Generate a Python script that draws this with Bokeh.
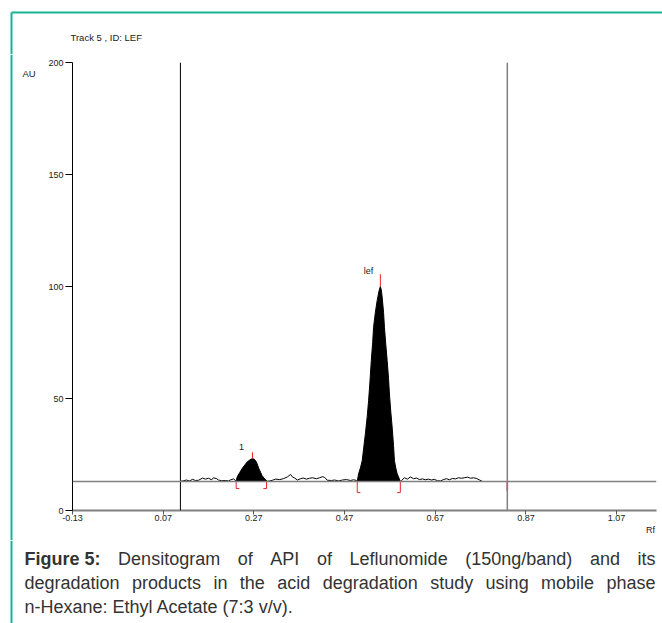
from bokeh.plotting import figure
from bokeh.layouts import column, row
from bokeh.models import FixedTicker, Span, LinearAxis, Range1d
from bokeh.core.properties import value
from bokeh.embed import file_html
from bokeh.resources import INLINE

# ---------------- data ----------------
title_text = "Track  5 , ID: LEF"
y_label_text = "AU"
x_label_text = "Rf"
y_ticks = [0, 50, 100, 150, 200]
x_tick_labels = ["-0.13", "0.07", "0.27", "0.47", "0.67", "0.87", "1.07"]
baseline_au = 13.0
track_start_rf = 0.108
track_end_rf = 0.829

noise1_rf = [0.108, 0.115, 0.121, 0.128, 0.135, 0.141, 0.148, 0.157, 0.163, 0.170,
             0.177, 0.181, 0.188, 0.192, 0.199, 0.207, 0.214, 0.218, 0.225, 0.229]
noise1_au = [13.0, 13.3, 13.6, 13.2, 13.9, 13.4, 13.5, 14.5, 14.0, 14.4,
             13.7, 14.6, 14.2, 13.6, 13.3, 13.4, 13.2, 13.6, 14.1, 13.5]

peak1_rf = [0.231, 0.233, 0.239, 0.244, 0.250, 0.255, 0.261, 0.266, 0.270, 0.274,
            0.277, 0.281, 0.285, 0.288, 0.292, 0.296, 0.299]
peak1_au = [13.0, 14.9, 17.0, 18.7, 20.3, 21.6, 22.6, 23.1, 23.0, 22.2,
            21.0, 18.7, 17.0, 15.6, 14.5, 13.8, 13.0]

noise2_rf = [0.305, 0.311, 0.318, 0.327, 0.335, 0.344, 0.351, 0.355, 0.360, 0.366,
             0.373, 0.379, 0.386, 0.393, 0.399, 0.408, 0.415, 0.421, 0.426, 0.432,
             0.441, 0.448, 0.457, 0.465, 0.474, 0.483, 0.490, 0.496]
noise2_au = [13.2, 13.5, 14.0, 13.8, 14.2, 15.0, 16.1, 15.0, 14.5, 13.6,
             14.2, 14.5, 14.0, 14.4, 14.6, 14.2, 14.6, 15.1, 14.8, 13.5,
             13.4, 13.6, 13.2, 13.6, 13.8, 13.4, 13.7, 13.4]

lef_rf = [0.498, 0.501, 0.505, 0.509, 0.512, 0.516, 0.520, 0.523, 0.526, 0.529,
          0.532, 0.534, 0.538, 0.542, 0.546, 0.549, 0.551, 0.553, 0.556, 0.558,
          0.561, 0.564, 0.567, 0.569, 0.572, 0.575, 0.578, 0.580, 0.583, 0.586,
          0.590, 0.593]
lef_au = [13.0, 16.4, 19.0, 22.3, 27.5, 34.4, 42.0, 49.0, 57.5, 67.0,
          75.0, 81.8, 88.5, 93.8, 98.0, 100.0, 98.5, 95.2, 88.5, 81.8,
          74.0, 67.0, 59.0, 52.0, 44.0, 37.2, 29.0, 22.3, 19.0, 16.4,
          14.5, 13.0]

noise3_rf = [0.596, 0.602, 0.609, 0.615, 0.622, 0.629, 0.635, 0.642, 0.648, 0.655,
             0.662, 0.668, 0.675, 0.682, 0.688, 0.695, 0.701, 0.708, 0.715, 0.721,
             0.728, 0.734, 0.741, 0.748, 0.754, 0.761, 0.768, 0.774]
noise3_au = [13.4, 14.6, 14.0, 15.0, 14.2, 14.5, 13.8, 14.1, 13.7, 14.0,
             13.6, 13.9, 13.3, 13.2, 13.8, 14.2, 13.7, 14.3, 14.1, 14.6,
             14.4, 14.6, 14.9, 14.4, 14.6, 14.3, 13.6, 13.0]

peak_names = ["1", "lef"]
peak_apex_rf = [0.267, 0.549]
peak_apex_au = [23.1, 100.0]
peak_mark_top_au = [26.0, 105.5]
peak_start_rf = [0.231, 0.498]
peak_end_rf = [0.298, 0.593]
peak_bracket_low_au = [9.8, 8.0]
peak_label_rf = [0.243, 0.523]
peak_label_au = [28.3, 106.8]
rf_label_pos = 1.145

caption_lines = [
    ["Figure 5:", "Densitogram", "of", "API", "of", "Leflunomide", "(150ng/band)", "and", "its"],
    ["degradation", "products", "in", "the", "acid", "degradation", "study", "using", "mobile", "phase"],
    ["n-Hexane: Ethyl Acetate (7:3 v/v)."],
]

# ---------------- styling constants ----------------
FONT = "Liberation Sans"
TEAL = "#18b495"
RED = "#e8242a"
TXT = "#222222"
PAGE_W, PAGE_H = 662, 623
TOP_H = 54          # top strip height
LEFT_W = 40         # left strip width
CAP_TOP = 540       # caption strip starts here
MAIN_H = CAP_TOP - TOP_H
TEAL_X, TEAL_Y = 11, 12


def strip(w, h, x0, x1, y0, y1):
    f = figure(width=w, height=h, output_backend="svg", toolbar_location=None,
               x_range=Range1d(x0, x1), y_range=Range1d(y0, y1),
               x_axis_type=None, y_axis_type=None, min_border=0, title_location=None)
    f.outline_line_color = None
    f.background_fill_color = "white"
    f.border_fill_color = "white"
    f.frame_align = False
    return f

# ---------------- top strip (title + frame) ----------------
top = strip(PAGE_W, TOP_H, 0, PAGE_W, TOP_H, 0)
top.segment(x0=[TEAL_X, TEAL_X], y0=[TEAL_Y, TEAL_Y], x1=[PAGE_W, TEAL_X], y1=[TEAL_Y, TOP_H],
            line_color=TEAL, line_width=2)
top.text(x=[70], y=[37], text=[title_text], text_font=value(FONT), text_font_size="9.5px",
         text_baseline="middle", text_color=TXT)

# ---------------- left strip ("AU") ----------------
left = strip(LEFT_W, MAIN_H, 0, LEFT_W, CAP_TOP, TOP_H)
left.segment(x0=[TEAL_X], y0=[TOP_H], x1=[TEAL_X], y1=[CAP_TOP], line_color=TEAL, line_width=2)
left.text(x=[28.5], y=[73], text=[y_label_text], text_font=value(FONT), text_font_size="9.5px",
          text_align="center", text_baseline="middle", text_color=TXT)

# ---------------- main chart ----------------
FL, FR, FT, FB = 72, 656, 62, 510     # frame on the page
p = figure(width=PAGE_W - LEFT_W, height=MAIN_H, output_backend="svg", toolbar_location=None,
           x_range=Range1d(-0.13, 1.158), y_range=Range1d(0, 200), title_location=None,
           min_border_left=FL - LEFT_W, min_border_right=PAGE_W - FR,
           min_border_top=FT - TOP_H, min_border_bottom=CAP_TOP - FB)
p.outline_line_color = None
p.frame_align = False
p.xgrid.visible = False
p.ygrid.visible = False

xt = [float(s) for s in x_tick_labels]
p.xaxis.ticker = FixedTicker(ticks=xt)
p.xaxis.major_label_overrides = {v: s for v, s in zip(xt, x_tick_labels)}
p.yaxis.ticker = FixedTicker(ticks=y_ticks)
for ax in (p.xaxis[0], p.yaxis[0]):
    ax.minor_tick_line_color = None
    ax.major_tick_in = 0
    ax.major_label_text_font = FONT
    ax.major_label_text_font_size = "9px"
    ax.major_label_text_color = TXT
p.xaxis.axis_line_color = "#808080"
p.xaxis.axis_line_width = 2
p.xaxis.major_tick_line_color = "#555555"
p.xaxis.major_tick_out = 4
p.xaxis.major_label_standoff = 0
p.yaxis.axis_line_color = "#000000"
p.yaxis.major_tick_out = 7
p.yaxis.major_label_standoff = 2

rf_axis = LinearAxis(ticker=FixedTicker(ticks=[rf_label_pos]),
                     major_label_overrides={rf_label_pos: x_label_text},
                     axis_line_color=None, major_tick_line_color=None,
                     minor_tick_line_color=None, major_tick_out=0, major_tick_in=0,
                     major_label_standoff=1, major_label_text_font=FONT,
                     major_label_text_font_size="9px", major_label_text_color=TXT)
p.add_layout(rf_axis, "below")

# track limits & baseline
p.add_layout(Span(location=track_start_rf, dimension="height", line_color="#000000", line_width=1))
p.add_layout(Span(location=track_end_rf, dimension="height", line_color="#808080", line_width=1.5))
p.add_layout(Span(location=baseline_au, dimension="width", line_color="#808080", line_width=1.5))

# filled peaks + trace
p.varea(x=peak1_rf, y1=[baseline_au] * len(peak1_rf), y2=peak1_au, color="black")
p.varea(x=lef_rf, y1=[baseline_au] * len(lef_rf), y2=lef_au, color="black")
trace_rf = noise1_rf + peak1_rf + noise2_rf + lef_rf + noise3_rf
trace_au = noise1_au + peak1_au + noise2_au + lef_au + noise3_au
p.line(trace_rf, trace_au, line_color="black", line_width=1)

# red integration markers
FOOT = 0.007
n = len(peak_start_rf)
p.segment(x0=peak_apex_rf, y0=peak_apex_au, x1=peak_apex_rf, y1=peak_mark_top_au,
          line_color=RED, line_width=1)
p.segment(x0=peak_start_rf, y0=[baseline_au] * n, x1=peak_start_rf, y1=peak_bracket_low_au,
          line_color=RED, line_width=1)
p.segment(x0=peak_end_rf, y0=[baseline_au] * n, x1=peak_end_rf, y1=peak_bracket_low_au,
          line_color=RED, line_width=1)
p.segment(x0=peak_start_rf, y0=peak_bracket_low_au, x1=[v + FOOT for v in peak_start_rf],
          y1=peak_bracket_low_au, line_color=RED, line_width=1)
p.segment(x0=peak_end_rf, y0=peak_bracket_low_au, x1=[v - FOOT for v in peak_end_rf],
          y1=peak_bracket_low_au, line_color=RED, line_width=1)
p.segment(x0=[track_end_rf], y0=[baseline_au - 0.4], x1=[track_end_rf], y1=[baseline_au - 4.4],
          line_color="#cc1111", line_width=1.5)

p.text(x=peak_label_rf, y=peak_label_au, text=peak_names, text_font=value(FONT),
       text_font_size="9px", text_align="center", text_baseline="middle", text_color=TXT)

# ---------------- caption strip ----------------
cap = strip(PAGE_W, PAGE_H - CAP_TOP, 0, PAGE_W, PAGE_H, CAP_TOP)
cap.segment(x0=[TEAL_X], y0=[CAP_TOP], x1=[TEAL_X], y1=[PAGE_H], line_color=TEAL, line_width=2)

AW = {c: 556 for c in "abdeghnopqu0123456789"}
AW.update({"c": 500, "f": 278, "i": 222, "j": 222, "k": 500, "l": 222, "m": 833, "r": 333,
           "s": 500, "t": 278, "v": 500, "w": 722, "x": 500, "y": 500, "z": 500,
           "A": 667, "D": 722, "E": 667, "F": 611, "H": 722, "I": 278, "L": 556, "P": 667,
           "(": 333, ")": 333, "/": 278, ":": 278, ".": 278, "-": 333, " ": 278, ",": 278})
BW = dict(AW)
BW.update({"i": 278, "g": 611, "u": 611, "r": 389, ":": 333})
CAP_SIZE = 18
CAP_COLOR = "#333333"


def width(word, table):
    return sum(table.get(c, 556) for c in word) / 1000 * CAP_SIZE

left_x, right_x = 24, 655
line_y = [558, 582, 606]
reg_x, reg_y, reg_t, reg_a = [], [], [], []
bold_x, bold_y, bold_t = [], [], []
for li, words in enumerate(caption_lines):
    if li == len(caption_lines) - 1:
        reg_x.append(left_x); reg_y.append(line_y[li]); reg_t.append(words[0]); reg_a.append("left")
        continue
    widths = [width(w, BW if w.startswith("Figure") else AW) for w in words]
    gap = (right_x - left_x - sum(widths)) / (len(words) - 1)
    x = left_x
    for wi, w in enumerate(words):
        if w.startswith("Figure"):
            bold_x.append(x); bold_y.append(line_y[li]); bold_t.append(w)
        elif wi == len(words) - 1:
            reg_x.append(right_x); reg_y.append(line_y[li]); reg_t.append(w); reg_a.append("right")
        else:
            reg_x.append(x); reg_y.append(line_y[li]); reg_t.append(w); reg_a.append("left")
        x += widths[wi] + gap

cap.text(x=reg_x, y=reg_y, text=reg_t, text_align=reg_a, text_font=value(FONT),
         text_font_size=f"{CAP_SIZE}px", text_baseline="middle", text_color=CAP_COLOR)
cap.text(x=bold_x, y=bold_y, text=bold_t, text_font=value(FONT), text_font_style="bold",
         text_font_size=f"{CAP_SIZE}px", text_baseline="middle", text_color=CAP_COLOR)

layout = column(top, row(left, p), cap)
open("out.html", "w").write(file_html(layout, INLINE))
